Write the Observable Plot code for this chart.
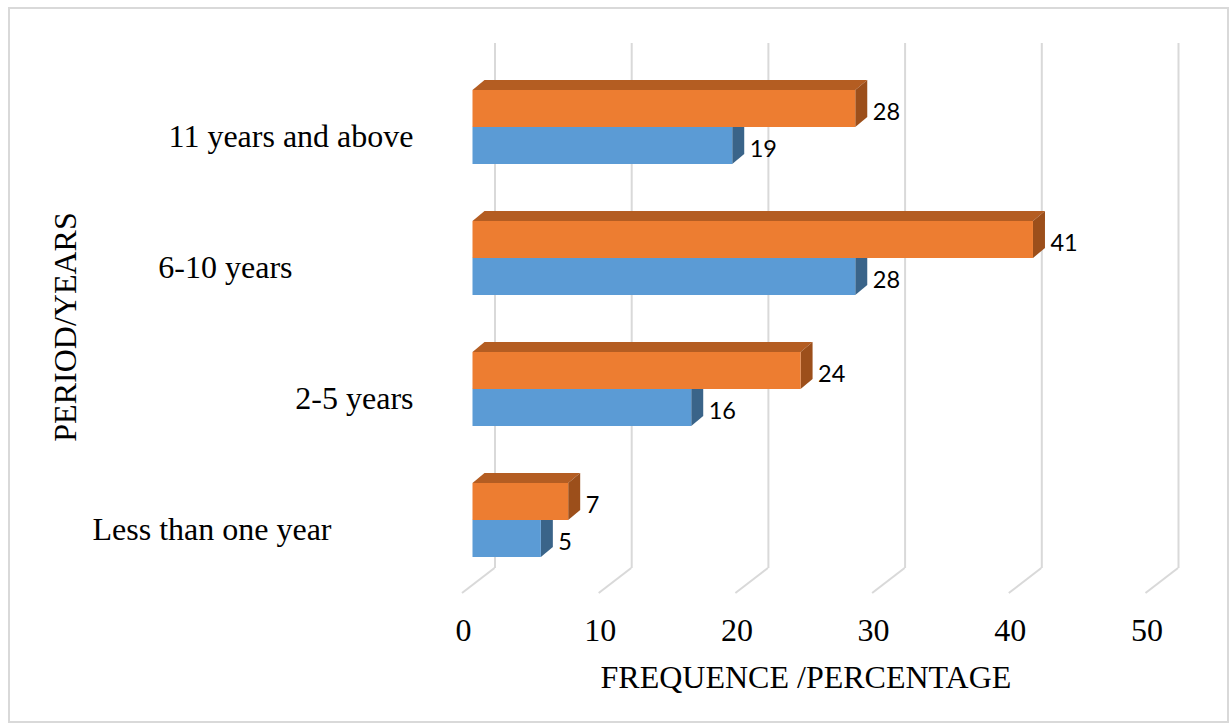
<!DOCTYPE html>
<html>
<head>
<meta charset="utf-8">
<script src="https://cdn.jsdelivr.net/npm/d3@7"></script>
<script src="https://cdn.jsdelivr.net/npm/@observablehq/plot@0.6"></script>
<style>
  html, body { margin: 0; padding: 0; background: #fff; }
  #wrap { position: relative; width: 1231px; height: 724px; overflow: hidden; }
  #border { position: absolute; left: 8px; top: 7px; width: 1221px; height: 716px;
            border: 2px solid #d9d9d9; box-sizing: border-box; }
  #chart { position: absolute; left: 0; top: 0; }
</style>
</head>
<body>
<div id="wrap"><div id="border"></div><div id="chart"></div></div>
<script>
// Period of service, by frequency (blue) and percentage (orange)
const categories = ["11 years and above", "6-10 years", "2-5 years", "Less than one year"];
const frequency  = [19, 28, 16, 5];
const percentage = [28, 41, 24, 7];
const xTicks = [0, 10, 20, 30, 40, 50];
const xTitle = "FREQUENCE /PERCENTAGE";
const yTitle = "PERIOD/YEARS";

// Layout constants (pixels)
const BAR = 37;                    // thickness of one bar
const DEPTH_X = 12, DEPTH_Y = 10;  // extrusion of each bar
const WALL_X = 22;                 // back wall offset of gridlines
const FLOOR_X = -10.5, FLOOR_Y = 25;
const labelEnd = {"11 years and above": 413, "6-10 years": 292, "2-5 years": 413, "Less than one year": 331};
const ML = 472.5;

const rows = categories.flatMap((c, i) => [
  {category: c, series: "percentage", value: percentage[i]},
  {category: c, series: "frequency", value: frequency[i]}
]);
const orangeRows = rows.filter(d => d.series === "percentage");
const blueRows = rows.filter(d => d.series === "frequency");

const colors = {
  percentage: {front: "#ED7D31", top: "#B45D22", side: "#9C4F1B"},
  frequency:  {front: "#5B9BD5", top: "#4A7DAD", side: "#3A6489"}
};

// Top and right faces of the extruded bars
function sideFaces(data, series) {
  return (index, scales, values, dims) => {
    const x = scales.x, y = scales.y;
    const g = d3.create("svg:g");
    for (const d of data) {
      const x0 = x(0), x1 = x(d.value);
      const yt = y(d.category) + (series === "frequency" ? BAR : 0);
      const yb = yt + BAR;
      g.append("polygon")
        .attr("points", [[x0, yt], [x1, yt], [x1 + DEPTH_X, yt - DEPTH_Y], [x0 + DEPTH_X, yt - DEPTH_Y]].join(" "))
        .attr("fill", colors[series].top);
      g.append("polygon")
        .attr("points", [[x1, yt], [x1 + DEPTH_X, yt - DEPTH_Y], [x1 + DEPTH_X, yb - DEPTH_Y], [x1, yb]].join(" "))
        .attr("fill", colors[series].side);
    }
    return g.node();
  };
}

// Diagonal floor segments of the gridlines
function floorLines(index, scales, values, dims) {
  const x = scales.x;
  const yb = dims.height - dims.marginBottom;
  const g = d3.create("svg:g").attr("stroke", "#d9d9d9").attr("stroke-width", 2).attr("fill", "none");
  for (const t of xTicks) {
    g.append("line")
      .attr("x1", x(t) + WALL_X).attr("y1", yb)
      .attr("x2", x(t) + FLOOR_X).attr("y2", yb + FLOOR_Y);
  }
  return g.node();
}

const chart = Plot.plot({
  width: 1231,
  height: 724,
  marginLeft: ML,
  marginRight: 75,
  marginTop: 43,
  marginBottom: 156,
  x: {domain: [0, 50]},
  y: {domain: categories, range: [31.7, 614.2], padding: 0.4364, axis: null},
  style: {fontFamily: "'Liberation Serif', 'Times New Roman', serif", fontSize: "32px", color: "#000", background: "transparent", overflow: "visible"},
  marks: [
    Plot.ruleX(xTicks, {x: d => d, dx: WALL_X, stroke: "#d9d9d9", strokeWidth: 2, strokeOpacity: 1}),
    floorLines,
    Plot.axisX(xTicks, {tickSize: 0, tickPadding: 50, dx: -9.5, label: null, fill: "#000"}),
    sideFaces(blueRows, "frequency"),
    Plot.barX(blueRows, {x: "value", y: "category", fill: colors.frequency.front, insetTop: BAR, insetBottom: 0}),
    sideFaces(orangeRows, "percentage"),
    Plot.barX(orangeRows, {x: "value", y: "category", fill: colors.percentage.front, insetTop: 0, insetBottom: BAR}),
    Plot.text(orangeRows, {x: "value", y: "category", text: d => String(d.value), dx: 17, dy: -15,
      textAnchor: "start", fontFamily: "Lato, 'Open Sans', sans-serif", fontSize: 23.5, fill: "#000"}),
    Plot.text(blueRows, {x: "value", y: "category", text: d => String(d.value), dx: 17, dy: 22,
      textAnchor: "start", fontFamily: "Lato, 'Open Sans', sans-serif", fontSize: 23.5, fill: "#000"}),
    ...categories.map(c => Plot.text([c], {y: d => d, text: d => d, frameAnchor: "left",
      textAnchor: "end", lineAnchor: "middle", dx: labelEnd[c] - ML, dy: 9, fill: "#000"})),
    Plot.text([yTitle], {text: d => d, frameAnchor: "left", rotate: -90, textAnchor: "middle", lineAnchor: "middle",
      dx: 64.8 - ML, dy: 21, fill: "#000"}),
    Plot.text([xTitle], {text: d => d, frameAnchor: "bottom", textAnchor: "middle", lineAnchor: "middle",
      dx: -8.8, dy: 109, fill: "#000"})
  ]
});
document.getElementById("chart").appendChild(chart);
</script>
</body>
</html>
